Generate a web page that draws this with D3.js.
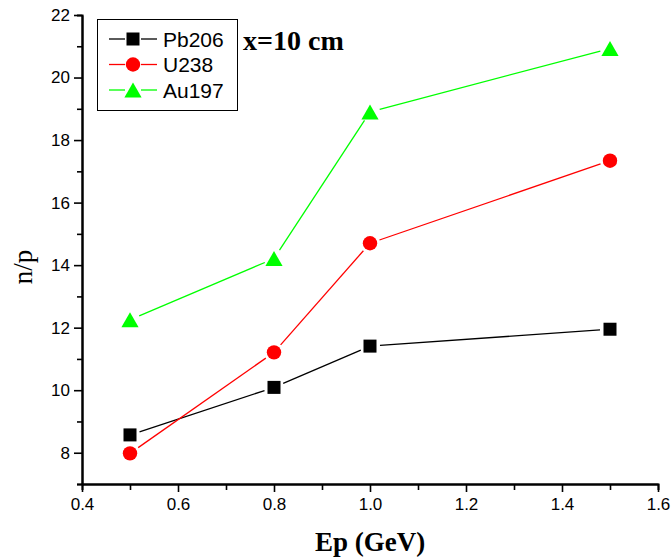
<!DOCTYPE html>
<html>
<head>
<meta charset="utf-8">
<script src="https://cdn.jsdelivr.net/npm/d3@7"></script>
<style>
  html, body { margin: 0; padding: 0; background: #fff; }
  svg { display: block; }
  .tick text { font-family: Arial, "Liberation Sans", sans-serif; font-size: 17px; fill: #000; }
</style>
</head>
<body>
<svg id="chart" width="672" height="560"></svg>
<script>
// Beam energy (GeV)
const energies = [0.5, 0.8, 1.0, 1.5];
// Neutron yield per proton at x = 10 cm
const pb206 = [8.57, 10.09, 11.41, 11.95];
const u238  = [7.98, 11.21, 14.70, 17.34];
const au197 = [12.25, 14.21, 18.90, 20.93];

const seriesNames = ["Pb206", "U238", "Au197"];
const xMajorTicks = [0.4, 0.6, 0.8, 1.0, 1.2, 1.4, 1.6];
const xMinorTicks = [0.5, 0.7, 0.9, 1.1, 1.3, 1.5];
const yMajorTicks = [8, 10, 12, 14, 16, 18, 20, 22];
const yMinorTicks = [7, 9, 11, 13, 15, 17, 19, 21];

const series = [
  { name: seriesNames[0], values: pb206, color: "#000000", shape: "square" },
  { name: seriesNames[1], values: u238,  color: "#ff0000", shape: "circle" },
  { name: seriesNames[2], values: au197, color: "#00ff00", shape: "triangle" }
];

const svg = d3.select("#chart");
const x = d3.scaleLinear().domain([0.4, 1.6]).range([82, 658]);
const y = d3.scaleLinear().domain([7, 22]).range([484, 15]);

// marker drawing
function marker(g, shape, color) {
  if (shape === "square") {
    g.append("rect").attr("x", -6.5).attr("y", -6.5).attr("width", 13).attr("height", 13).attr("fill", color);
  } else if (shape === "circle") {
    g.append("circle").attr("r", 7.2).attr("fill", color);
  } else {
    g.append("path").attr("d", "M0,-7.5 L8.6,7.5 L-8.6,7.5 Z").attr("fill", color);
  }
}

// axes
function styleAxis(g) {
  g.select(".domain").attr("stroke", "#000").attr("stroke-width", 2);
  g.selectAll(".tick line").attr("stroke", "#000").attr("stroke-width", 1.6);
}

svg.append("g").attr("transform", `translate(0,${y(7)})`)
  .call(d3.axisBottom(x).tickValues(xMinorTicks).tickSize(6).tickFormat(""))
  .call(styleAxis);
svg.append("g").attr("transform", `translate(0,${y(7)})`)
  .call(d3.axisBottom(x).tickValues(xMajorTicks).tickSize(8).tickSizeOuter(0).tickPadding(6)
    .tickFormat(d3.format(".1f")))
  .call(styleAxis);

svg.append("g").attr("transform", `translate(${x(0.4)},0)`)
  .call(d3.axisLeft(y).tickValues(yMinorTicks).tickSize(5).tickFormat(""))
  .call(styleAxis);
svg.append("g").attr("transform", `translate(${x(0.4)},0)`)
  .call(d3.axisLeft(y).tickValues(yMajorTicks).tickSize(8).tickSizeOuter(0).tickPadding(4)
    .tickFormat(d3.format("d")))
  .call(styleAxis);

// series lines, broken around each marker
const gap = 10;
series.forEach(s => {
  const pts = energies.map((e, i) => [x(e), y(s.values[i])]);
  const segs = d3.pairs(pts).map(([a, b]) => {
    const dx = b[0] - a[0], dy = b[1] - a[1];
    const len = Math.hypot(dx, dy);
    const ux = dx / len, uy = dy / len;
    return [a[0] + ux * gap, a[1] + uy * gap, b[0] - ux * gap, b[1] - uy * gap];
  });
  svg.append("g").selectAll("line").data(segs).join("line")
    .attr("x1", d => d[0]).attr("y1", d => d[1])
    .attr("x2", d => d[2]).attr("y2", d => d[3])
    .attr("stroke", s.color).attr("stroke-width", 1.3);
  svg.append("g").selectAll("g").data(pts).join("g")
    .attr("transform", d => `translate(${d[0]},${d[1]})`)
    .each(function () { marker(d3.select(this), s.shape, s.color); });
});

// legend
const legend = svg.append("g");
legend.append("rect").attr("x", 97.5).attr("y", 19.5).attr("width", 140).attr("height", 91)
  .attr("fill", "#fff").attr("stroke", "#000").attr("stroke-width", 1);
series.forEach((s, i) => {
  const ly = 39 + i * 25.5;
  legend.append("line").attr("x1", 109).attr("x2", 125).attr("y1", ly).attr("y2", ly)
    .attr("stroke", s.color).attr("stroke-width", 1.3);
  legend.append("line").attr("x1", 141).attr("x2", 157).attr("y1", ly).attr("y2", ly)
    .attr("stroke", s.color).attr("stroke-width", 1.3);
  marker(legend.append("g").attr("transform", `translate(133,${ly})`), s.shape, s.color);
  legend.append("text").attr("x", 163).attr("y", ly).attr("dy", "0.36em")
    .attr("font-family", "Arial, 'Liberation Sans', sans-serif").attr("font-size", 21)
    .text(s.name);
});

// annotation
svg.append("text").attr("x", 243).attr("y", 40).attr("dy", "0.35em")
  .attr("font-family", "'Times New Roman', 'Liberation Serif', serif")
  .attr("font-weight", "bold").attr("font-size", 28).text("x=10 cm");

// axis titles
svg.append("text").attr("x", 370).attr("y", 542).attr("dy", "0.35em").attr("text-anchor", "middle")
  .attr("font-family", "'Times New Roman', 'Liberation Serif', serif")
  .attr("font-weight", "bold").attr("font-size", 27).text("Ep (GeV)");
svg.append("text").attr("transform", "translate(23,267) rotate(-90)").attr("dy", "0.35em")
  .attr("text-anchor", "middle")
  .attr("font-family", "'Times New Roman', 'Liberation Serif', serif")
  .attr("font-size", 27).text("n/p");
</script>
</body>
</html>
